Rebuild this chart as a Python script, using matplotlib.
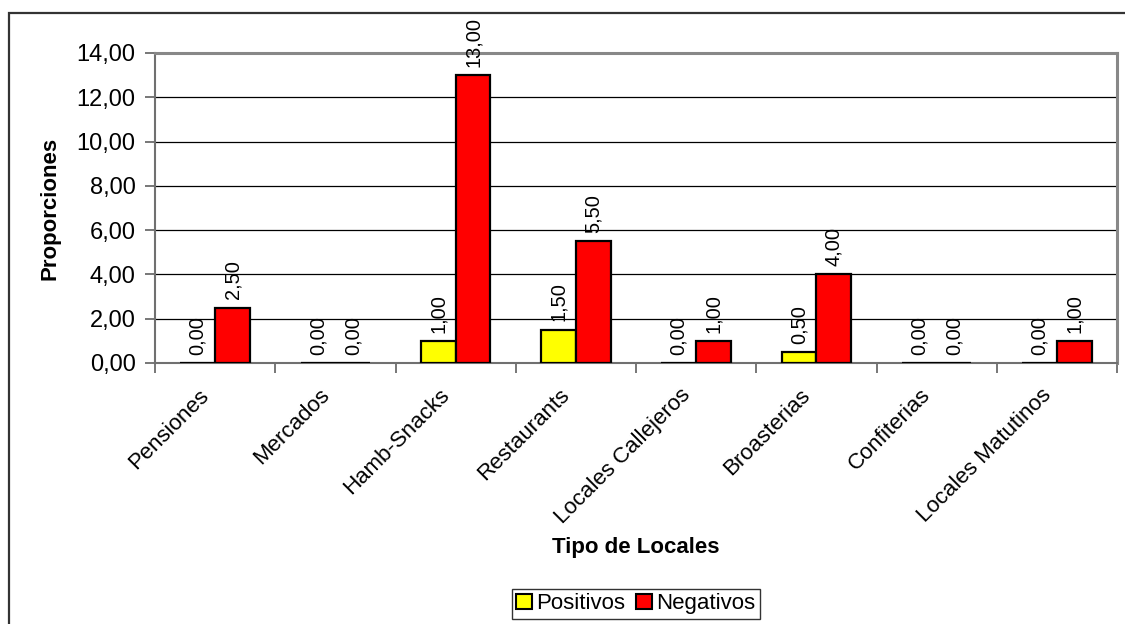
import matplotlib

matplotlib.use("Agg")
import numpy as np
from matplotlib import pyplot as plt
from matplotlib.patches import Patch, Rectangle

categories = [
    "Pensiones",
    "Mercados",
    "Hamb-Snacks",
    "Restaurants",
    "Locales Callejeros",
    "Broasterias",
    "Confiterias",
    "Locales Matutinos",
]
positivos = [0.0, 0.0, 1.0, 1.5, 0.0, 0.5, 0.0, 0.0]
negativos = [2.5, 0.0, 13.0, 5.5, 1.0, 4.0, 0.0, 1.0]
y_ticks = [0, 2, 4, 6, 8, 10, 12, 14]

W, H = 1125, 624
plt.rcParams["font.family"] = ["Liberation Sans", "DejaVu Sans"]


def fmt(v):
    return f"{v:.2f}".replace(".", ",")


fig = plt.figure(figsize=(W / 100, H / 100), dpi=100)
fig.patch.set_facecolor("white")

ax = fig.add_axes([155 / W, 1 - 363 / H, (1117 - 155) / W, (363 - 53) / H])

x = np.arange(len(categories))
bw = 0.29
ax.bar(x - bw / 2, positivos, bw, color="#ffff00", edgecolor="black", linewidth=1.6, zorder=3)
ax.bar(x + bw / 2, negativos, bw, color="#ff0000", edgecolor="black", linewidth=1.6, zorder=3)

# value labels above each bar, rotated like the original sheet
for xi, p, n in zip(x, positivos, negativos):
    for off, v in ((-bw / 2, p), (bw / 2, n)):
        ax.annotate(fmt(v), (xi + off, v), xytext=(0, 6), textcoords="offset points",
                    rotation=90, ha="center", va="bottom", fontsize=14.4)

ax.set_xlim(-0.5, len(categories) - 0.5)
ax.set_ylim(0, 14)
ax.set_yticks(y_ticks)
ax.set_yticklabels([fmt(v) for v in y_ticks], fontsize=17)
ax.yaxis.grid(True, color="black", linewidth=0.9, zorder=0)
ax.set_axisbelow(True)

# category names slanted at 45 degrees, right end just left of the category centre
ax.set_xticks(x)
ax.set_xticklabels([])
ax.tick_params(axis="x", which="major", length=0)
for xi, name in zip(x, categories):
    ax.annotate(name, (xi, 0), xytext=(-6.5, -21), textcoords="offset points",
                rotation=45, ha="right", va="center", rotation_mode="anchor",
                fontsize=16, annotation_clip=False)
ax.set_xticks(np.arange(len(categories) + 1) - 0.5, minor=True)
ax.tick_params(axis="x", which="minor", length=7, width=1.2, color="#606060", direction="out")
ax.tick_params(axis="y", length=7, width=1.2, color="#606060", pad=7)

for side in ("left", "bottom"):
    ax.spines[side].set_color("#707070")
    ax.spines[side].set_linewidth(1.5)
for side in ("top", "right"):
    ax.spines[side].set_color("#888888")
    ax.spines[side].set_linewidth(2.2)

fig.text(50 / W, 1 - 208 / H, "Proporciones", rotation=90, ha="center", va="center",
         fontsize=16, fontweight="bold")
fig.text(636 / W, 1 - 547 / H, "Tipo de Locales", ha="center", va="center",
         fontsize=16, fontweight="bold")

handles = [
    Patch(facecolor="#ffff00", edgecolor="black", linewidth=1.5, label="Positivos"),
    Patch(facecolor="#ff0000", edgecolor="black", linewidth=1.5, label="Negativos"),
]
leg = fig.legend(handles=handles, loc="upper center", bbox_to_anchor=(636 / W, 1 - 589 / H),
                 ncol=2, fontsize=16, frameon=True, fancybox=False, borderpad=0.2,
                 handlelength=0.7, handleheight=0.7, handletextpad=0.2, columnspacing=0.5,
                 borderaxespad=0)
leg.get_frame().set_edgecolor("black")
leg.get_frame().set_linewidth(1.0)

# outer chart border: only left and top edges fall inside the image
fig.patches.append(Rectangle((9 / W, -0.1), 1.2, 1 - 13 / H + 0.1, transform=fig.transFigure,
                             fill=False, edgecolor="#333333", linewidth=1.6))

fig.savefig("out.png", dpi=100)
